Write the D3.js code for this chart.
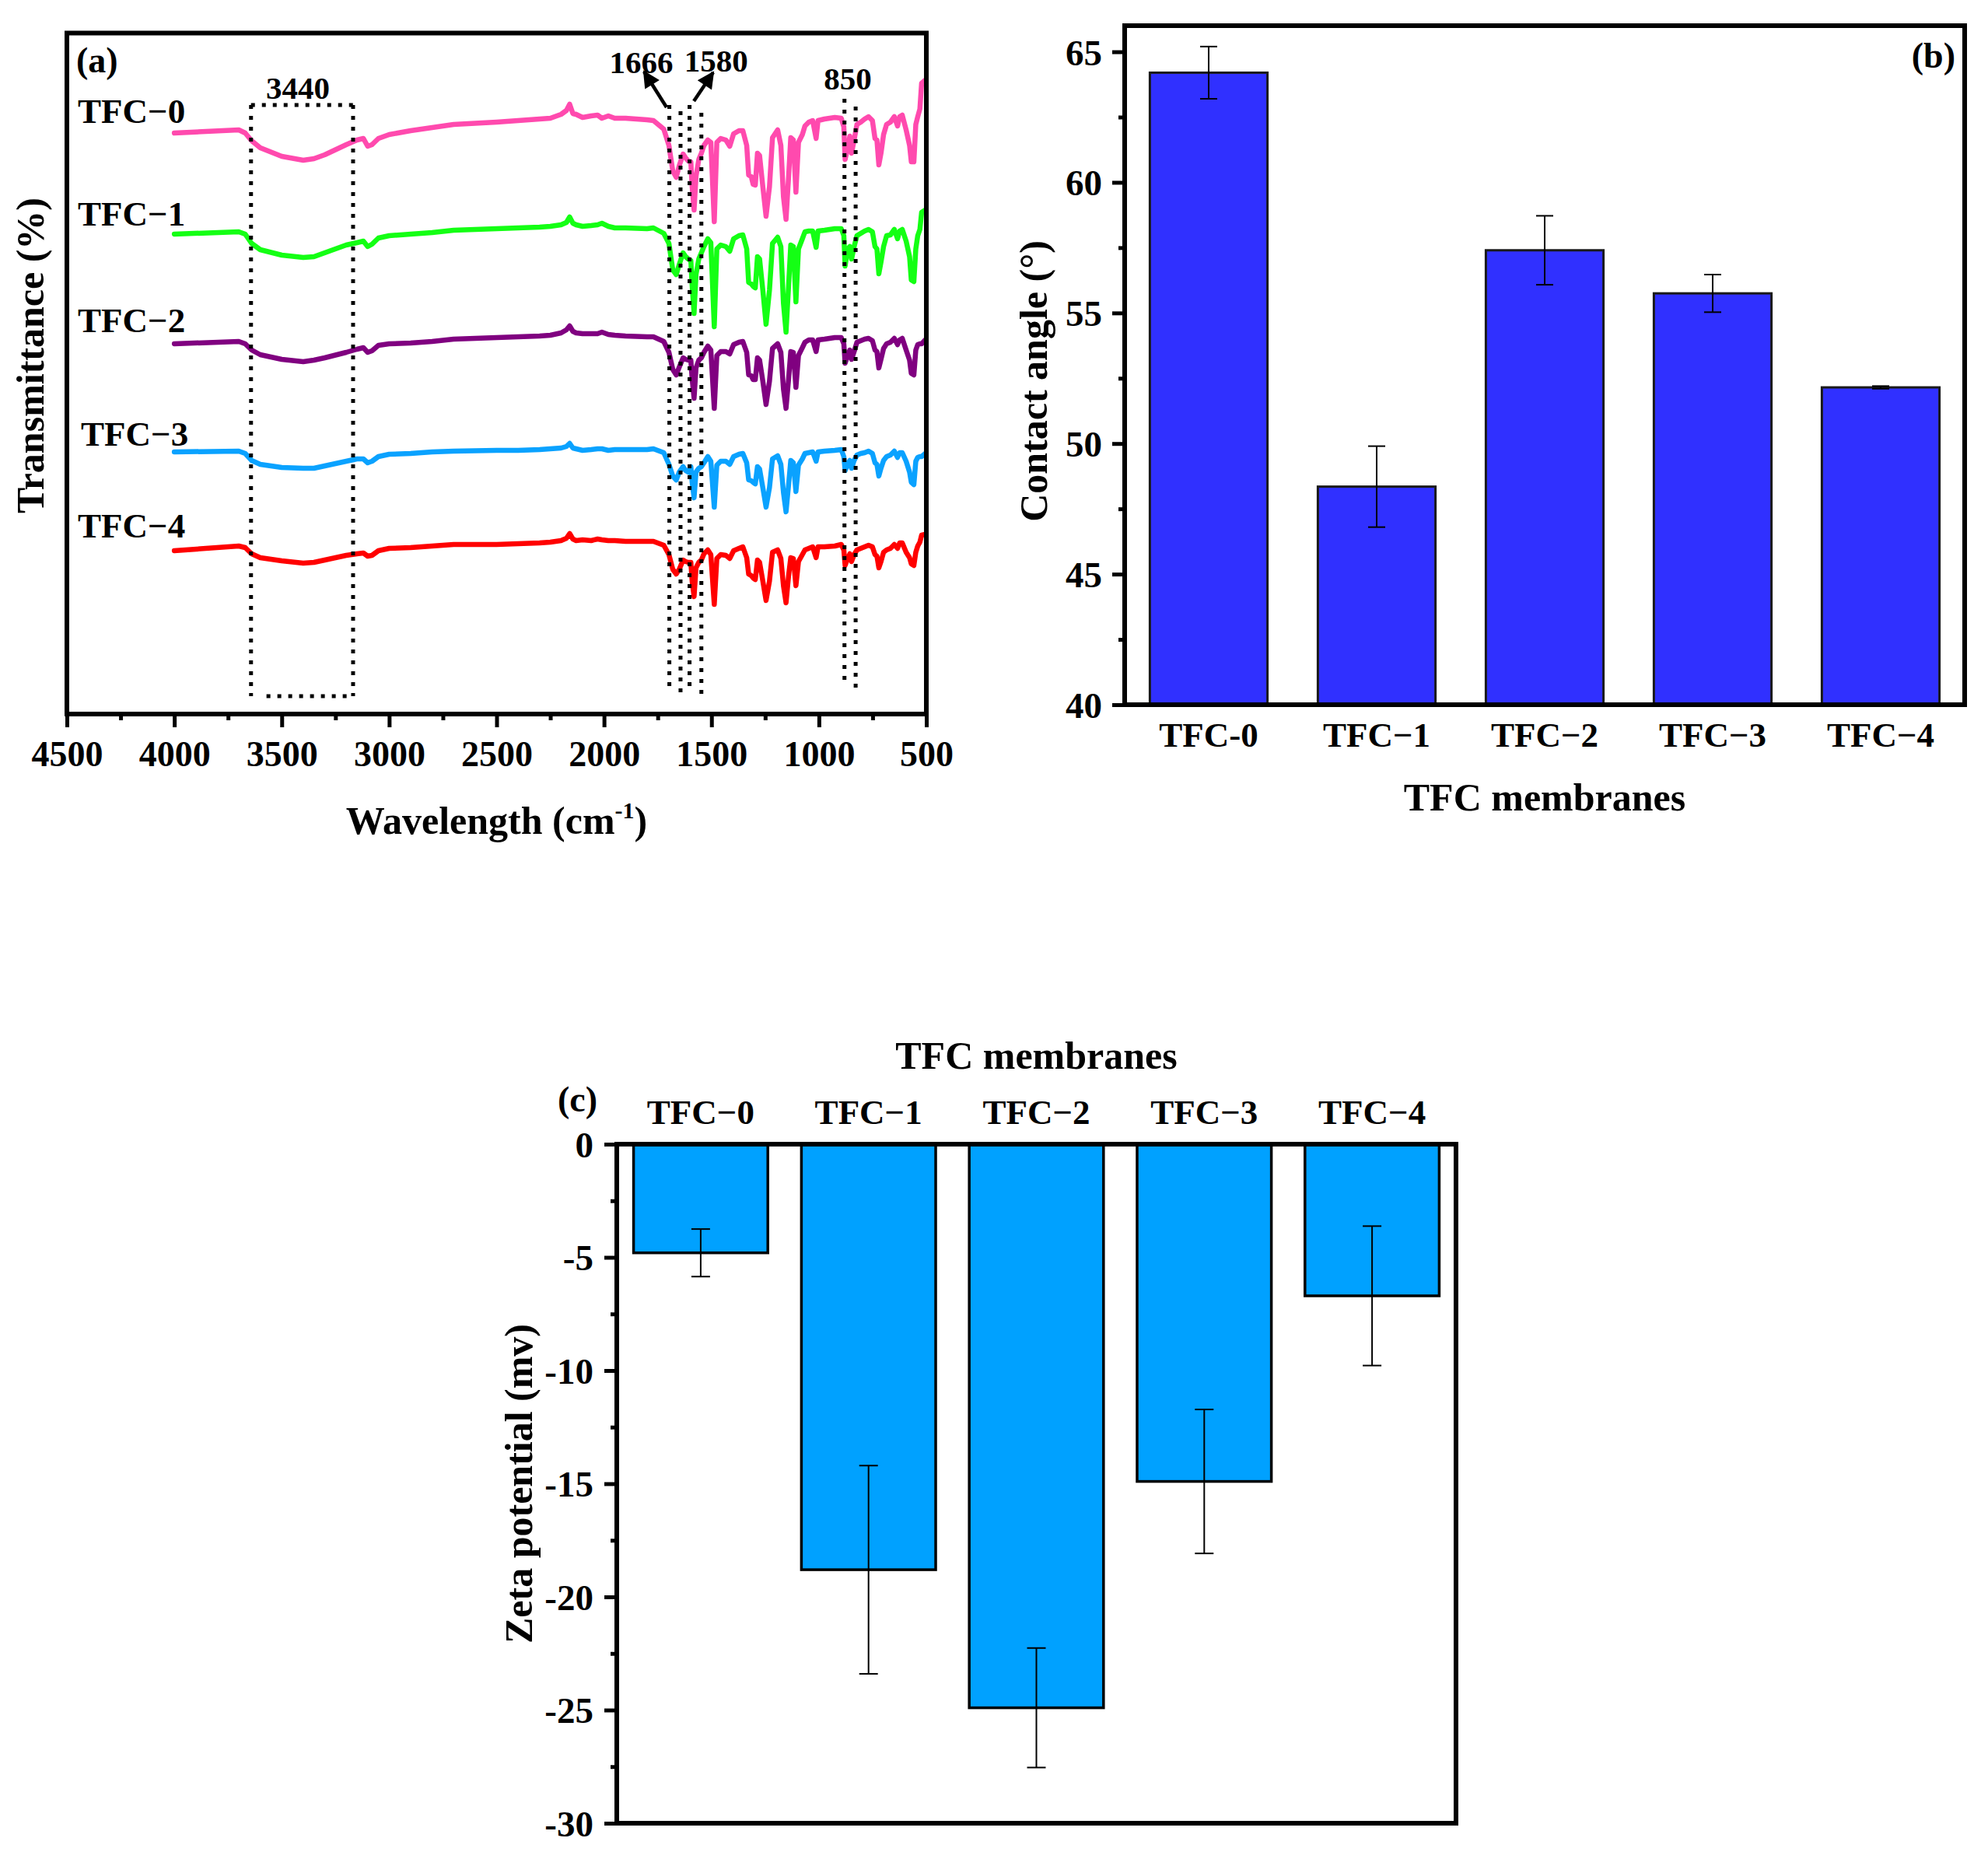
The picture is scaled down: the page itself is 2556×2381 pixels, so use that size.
<!DOCTYPE html>
<html>
<head>
<meta charset="utf-8">
<script src="https://cdn.jsdelivr.net/npm/d3@7"></script>
<style>
body { margin: 0; background: #fff; }
text { font-family: "Liberation Serif", "Times New Roman", serif; font-weight: bold; fill: #000; }
</style>
</head>
<body>
<script>
// ---- data ----
const wavenumbers = [4000, 3700, 3670, 3640, 3600, 3500, 3400, 3350, 3300, 3200, 3150, 3120, 3100, 3080, 3050, 3000, 2900, 2800, 2700, 2500, 2400, 2300, 2250, 2200, 2175, 2160, 2145, 2130, 2100, 2060, 2030, 2010, 1980, 1950, 1900, 1800,
    1770, 1722, 1698, 1680, 1664, 1650, 1632, 1620, 1608, 1596,
    1590, 1581, 1572, 1559, 1547, 1535, 1517, 1503, 1487, 1475,
    1457, 1433, 1415, 1397, 1372, 1354, 1336, 1327, 1315, 1306,
    1296, 1286, 1276, 1261, 1246, 1230, 1216, 1192, 1177, 1165,
    1153, 1141, 1131, 1119, 1107, 1095, 1077, 1065, 1047, 1029,
    1013, 1004, 974, 926, 896, 884, 878, 866, 856, 848,
    836, 823, 805, 787, 769, 751, 739, 730, 721, 711,
    699, 685, 667, 649, 634, 624, 612, 594, 578, 570,
    558, 549, 540, 530, 522, 505];

// transmittance, arbitrary offset units
const tfc0 = [74.7, 75.1, 74.7, 73.7, 72.8, 71.7, 71.2, 71.4, 71.9, 73.2, 73.8, 74.0, 73.0, 73.2, 74.0, 74.5, 75.0, 75.4, 75.8, 76.1, 76.3, 76.5, 76.6, 77.1, 77.6, 78.4, 77.2, 77.1, 76.7, 76.9, 77.0, 76.6, 76.9, 76.6, 76.6, 76.4,
    76.3, 75.2, 73.1, 69.8, 69.0, 70.5, 72.0, 71.5, 71.1, 71.0,
    67.8, 64.8, 69.1, 71.3, 72.1, 73.1, 73.8, 73.5, 63.3, 73.5,
    74.0, 73.8, 73.0, 74.6, 75.0, 75.0, 73.1, 69.3, 69.1, 68.1,
    68.0, 72.1, 71.8, 67.8, 64.0, 67.8, 74.1, 75.1, 73.1, 66.5,
    63.6, 69.1, 74.1, 73.8, 67.1, 73.5, 74.5, 75.6, 76.1, 76.3,
    74.0, 76.3, 76.5, 76.7, 76.6, 75.5, 71.3, 72.8, 74.3, 72.1,
    73.8, 75.8, 76.1, 76.5, 76.8, 76.3, 74.0, 73.8, 70.6, 72.1,
    74.5, 75.8, 76.1, 76.8, 75.6, 76.8, 77.0, 75.1, 73.1, 71.0,
    71.0, 75.8, 76.8, 77.8, 81.1, 81.5];
const tfc1 = [61.7, 62.0, 61.7, 60.5, 59.7, 59.0, 58.7, 58.8, 59.3, 60.3, 60.6, 60.8, 60.1, 60.4, 61.2, 61.5, 61.7, 61.9, 62.2, 62.4, 62.5, 62.6, 62.7, 62.9, 63.2, 63.9, 63.1, 62.9, 62.7, 62.8, 62.9, 63.1, 62.7, 62.5, 62.5, 62.4,
    62.5, 61.8, 60.5, 57.1, 56.5, 57.8, 59.3, 58.8, 58.5, 58.3,
    55.1, 51.5, 56.5, 58.5, 59.3, 60.1, 61.1, 60.6, 49.8, 59.8,
    60.3, 60.1, 59.5, 61.1, 61.5, 61.6, 59.8, 55.5, 55.3, 55.0,
    54.8, 58.8, 58.5, 54.5, 50.1, 54.5, 60.5, 61.3, 60.1, 52.8,
    49.1, 55.1, 60.3, 60.1, 53.0, 59.8, 61.1, 62.0, 62.1, 62.1,
    60.0, 62.1, 62.2, 62.4, 62.4, 61.5, 57.6, 59.8, 60.1, 58.5,
    60.1, 61.5, 61.8, 62.1, 62.3, 62.0, 60.1, 59.8, 56.6, 58.1,
    60.1, 61.5, 61.6, 62.3, 61.1, 62.1, 62.3, 60.8, 58.8, 55.8,
    55.6, 59.8, 61.5, 62.3, 64.5, 64.8];
const tfc2 = [47.6, 47.9, 47.6, 46.8, 46.2, 45.6, 45.3, 45.5, 45.8, 46.5, 46.9, 47.1, 46.5, 46.7, 47.4, 47.6, 47.7, 47.9, 48.2, 48.4, 48.5, 48.6, 48.7, 49.0, 49.4, 49.9, 49.2, 49.0, 48.9, 48.9, 48.9, 49.1, 48.8, 48.7, 48.6, 48.5,
    48.5, 47.9, 46.5, 44.3, 43.6, 44.6, 45.8, 45.6, 45.5, 45.5,
    43.1, 40.6, 44.5, 45.5, 45.8, 46.5, 47.3, 46.8, 39.3, 46.1,
    46.6, 46.6, 46.3, 47.5, 47.8, 47.9, 46.5, 43.6, 43.5, 43.0,
    43.0, 45.8, 45.5, 42.8, 39.8, 42.8, 47.0, 47.6, 46.5, 41.8,
    39.3, 43.1, 46.6, 46.5, 42.0, 46.1, 47.1, 47.8, 48.1, 48.1,
    46.6, 48.1, 48.2, 48.4, 48.4, 47.6, 45.1, 46.1, 46.8, 45.6,
    46.6, 47.8, 48.0, 48.2, 48.3, 48.0, 46.8, 46.6, 44.5, 45.6,
    47.0, 47.6, 47.8, 48.3, 47.5, 48.1, 48.3, 46.8, 45.5, 43.8,
    43.6, 46.8, 47.5, 47.6, 47.6, 48.1];
const tfc3 = [33.7, 33.8, 33.5, 32.6, 32.1, 31.7, 31.6, 31.6, 31.9, 32.5, 32.8, 32.8, 32.3, 32.5, 33.1, 33.4, 33.5, 33.7, 33.8, 33.9, 33.9, 34.0, 34.1, 34.2, 34.4, 34.8, 34.2, 34.1, 33.9, 34.0, 34.1, 34.1, 33.9, 34.0, 34.0, 34.0,
    34.1, 33.6, 32.1, 30.6, 30.1, 31.1, 31.8, 31.3, 31.1, 31.8,
    29.8, 27.8, 31.1, 31.6, 31.8, 32.3, 33.1, 32.5, 26.6, 32.0,
    32.5, 32.5, 32.1, 33.1, 33.4, 33.5, 32.3, 30.1, 30.0, 29.8,
    29.6, 31.8, 31.5, 29.1, 26.6, 29.1, 32.8, 33.2, 32.1, 28.5,
    26.0, 29.5, 32.6, 32.3, 28.6, 32.0, 32.8, 33.5, 33.6, 33.7,
    32.5, 33.7, 33.8, 33.9, 34.0, 33.1, 31.3, 32.1, 32.6, 31.6,
    32.6, 33.3, 33.5, 33.6, 33.8, 33.5, 32.3, 32.1, 30.6, 31.6,
    32.6, 33.1, 33.3, 33.8, 33.0, 33.6, 33.6, 32.5, 31.1, 29.8,
    29.5, 32.5, 33.0, 33.1, 33.1, 33.5];
const tfc4 = [21.0, 21.6, 21.4, 20.6, 20.1, 19.7, 19.4, 19.5, 19.8, 20.4, 20.6, 20.7, 20.3, 20.4, 21.0, 21.3, 21.4, 21.6, 21.8, 21.8, 21.9, 22.0, 22.1, 22.3, 22.6, 23.2, 22.5, 22.3, 22.4, 22.3, 22.5, 22.4, 22.3, 22.3, 22.2, 22.2,
    22.2, 21.7, 20.5, 18.6, 18.0, 18.6, 19.8, 19.6, 19.5, 19.5,
    17.1, 15.1, 18.8, 19.5, 19.8, 20.6, 21.1, 20.5, 14.1, 20.0,
    20.5, 20.4, 20.0, 21.0, 21.3, 21.5, 20.1, 18.0, 17.8, 17.5,
    17.3, 19.8, 19.5, 17.1, 14.6, 17.1, 20.8, 21.1, 20.0, 16.5,
    14.3, 17.8, 20.1, 20.0, 16.5, 19.6, 20.5, 21.1, 21.3, 21.5,
    20.1, 21.5, 21.5, 21.6, 21.8, 21.1, 19.1, 20.0, 20.6, 19.6,
    20.5, 21.1, 21.3, 21.5, 21.7, 21.5, 20.5, 20.3, 18.8, 19.6,
    20.8, 21.1, 21.3, 21.8, 21.3, 22.0, 22.0, 20.8, 20.1, 19.3,
    19.1, 20.8, 21.6, 22.1, 23.0, 23.1];

const seriesNames = ["TFC\u22120", "TFC\u22121", "TFC\u22122", "TFC\u22123", "TFC\u22124"];
const wavTicks = [4500, 4000, 3500, 3000, 2500, 2000, 1500, 1000, 500];
const wavMinor = [4250, 3750, 3250, 2750, 2250, 1750, 1250, 750];

// dotted guide lines [wavenumber, from, to]
const guideV = [[3643, 2.3, 78.3], [3168, 2.3, 78.3], [1696, 3.5, 78.3], [1644, 2.5, 77.5], [1602, 3.3, 78.3], [1547, 2.4, 77.3], [881, 4.3, 79.1], [829, 3.1, 78.1]];
const guideH = [[3643, 3168, 78.3], [3571, 3182, 2.3]];
const peakLabels = ["3440", "1666", "1580", "850"];
const peakAt = [[3425, 79.1], [1827, 82.4], [1478, 82.6], [866, 80.3]];
const arrows = [[1709, 78.0, 1814, 82.6], [1582, 78.8, 1492, 82.5]];

const membranesB = ["TFC-0", "TFC\u22121", "TFC\u22122", "TFC\u22123", "TFC\u22124"];
const contactAngle = [64.2, 48.35, 57.4, 55.75, 52.15];
const contactErr = [1.0, 1.55, 1.32, 0.72, 0.05];
const angleTicks = [40, 45, 50, 55, 60, 65];
const angleMinor = [42.5, 47.5, 52.5, 57.5, 62.5];

const membranesC = ["TFC\u22120", "TFC\u22121", "TFC\u22122", "TFC\u22123", "TFC\u22124"];
const zeta = [-4.8, -18.8, -24.9, -14.9, -6.7];
const zetaErr = [1.05, 4.6, 2.64, 3.18, 3.08];
const zetaTicks = [0, -5, -10, -15, -20, -25, -30];
const zetaMinor = [-2.5, -7.5, -12.5, -17.5, -22.5, -27.5];

// ---- layout ----
const W = 2556, H = 2381;
const boxA = {left: 86, right: 1191, top: 42.5, bottom: 918};
const boxB = {left: 1446, right: 2526, top: 33, bottom: 906};
const boxC = {left: 793, right: 1872, top: 1471, bottom: 2344};
const colors = ["#ff4aae", "#14ff14", "#800080", "#0aa2ff", "#ff0000"];
const labelPos = [[100, 158], [100, 290], [100, 427], [104, 573], [100, 691]];

const svg = d3.select("body").append("svg").attr("width", W).attr("height", H);

svg.append("defs").append("marker")
    .attr("id", "head")
    .attr("markerUnits", "userSpaceOnUse")
    .attr("viewBox", "0 0 10 10")
    .attr("refX", 9).attr("refY", 5)
    .attr("markerWidth", 26).attr("markerHeight", 22)
    .attr("orient", "auto")
    .append("path").attr("d", "M0,0 L10,5 L0,10 z").attr("fill", "#000");

let cleanAxis = (g) => {
    g.attr("font-family", null).attr("font-size", null);
    g.select(".domain").remove();
    g.selectAll(".tick line").attr("stroke", "#000").attr("stroke-width", 5);
};

let frame = (b) => {
    svg.append("rect")
        .attr("x", b.left).attr("y", b.top)
        .attr("width", b.right - b.left).attr("height", b.bottom - b.top)
        .attr("fill", "none").attr("stroke", "#000").attr("stroke-width", 6);
};

// ---- panel (a) ----
let drawSpectra = () => {
    const xA = d3.scaleLinear().domain([4500, 500]).range([boxA.left, boxA.right]);
    const yA = d3.scaleLinear().domain([0, 87.55]).range([boxA.bottom, boxA.top]);
    const all = [tfc0, tfc1, tfc2, tfc3, tfc4];

    const line = d3.line().x((d, i) => xA(wavenumbers[i])).y(d => yA(d));
    svg.append("g").selectAll("path")
        .data(all)
        .enter()
        .append("path")
        .attr("d", line)
        .attr("fill", "none")
        .attr("stroke", (d, i) => colors[i])
        .attr("stroke-width", 6.5)
        .attr("stroke-linejoin", "round")
        .attr("stroke-linecap", "round");

    const guides = svg.append("g").attr("stroke", "#000").attr("stroke-width", 5).attr("stroke-dasharray", "5 9");
    guides.selectAll(".gv").data(guideV).enter().append("line")
        .attr("x1", d => xA(d[0])).attr("x2", d => xA(d[0]))
        .attr("y1", d => yA(d[2])).attr("y2", d => yA(d[1]));
    guides.selectAll(".gh").data(guideH).enter().append("line")
        .attr("x1", d => xA(d[0])).attr("x2", d => xA(d[1]))
        .attr("y1", d => yA(d[2])).attr("y2", d => yA(d[2]));

    svg.append("g").selectAll("line").data(arrows).enter().append("line")
        .attr("x1", d => xA(d[0])).attr("y1", d => yA(d[1]))
        .attr("x2", d => xA(d[2])).attr("y2", d => yA(d[3]))
        .attr("stroke", "#000").attr("stroke-width", 4.5)
        .attr("marker-end", "url(#head)");

    svg.append("g").selectAll("text").data(peakLabels).enter().append("text")
        .attr("x", (d, i) => xA(peakAt[i][0])).attr("y", (d, i) => yA(peakAt[i][1]))
        .attr("text-anchor", "middle").style("font-size", "41px")
        .text(d => d);

    svg.append("g").selectAll("text").data(seriesNames).enter().append("text")
        .attr("x", (d, i) => labelPos[i][0]).attr("y", (d, i) => labelPos[i][1])
        .style("font-size", "45px")
        .text(d => d);

    frame(boxA);

    const gx = svg.append("g").attr("transform", "translate(0," + boxA.bottom + ")")
        .call(d3.axisBottom(xA).tickValues(wavTicks).tickSize(17).tickFormat(d3.format("d")));
    cleanAxis(gx);
    gx.selectAll("text").attr("y", 67).attr("dy", null).style("font-size", "46px");
    const gxm = svg.append("g").attr("transform", "translate(0," + boxA.bottom + ")")
        .call(d3.axisBottom(xA).tickValues(wavMinor).tickSize(8).tickFormat(""));
    cleanAxis(gxm);

    const xt = svg.append("text").attr("x", (boxA.left + boxA.right) / 2).attr("y", 1072)
        .attr("text-anchor", "middle").style("font-size", "50px");
    xt.append("tspan").text("Wavelength (cm");
    xt.append("tspan").attr("dy", -20).style("font-size", "30px").text("-1");
    xt.append("tspan").attr("dy", 20).text(")");

    svg.append("text").attr("transform", "translate(56,457) rotate(-90)")
        .attr("text-anchor", "middle").style("font-size", "50px").text("Transmittance (%)");

    svg.append("text").attr("x", 98).attr("y", 93).style("font-size", "46px").text("(a)");
};

// ---- panel (b) ----
let drawContact = () => {
    const xB = d3.scaleBand().domain(membranesB).range([boxB.left, boxB.right]).paddingInner(0.3).paddingOuter(0.15);
    const yB = d3.scaleLinear().domain([40, 66]).range([boxB.bottom, boxB.top]);

    svg.append("g").selectAll("rect")
        .data(contactAngle)
        .enter()
        .append("rect")
        .attr("x", (d, i) => xB(membranesB[i]))
        .attr("width", xB.bandwidth())
        .attr("y", d => yB(d))
        .attr("height", d => yB(40) - yB(d))
        .attr("fill", "#3030ff")
        .attr("stroke", "#1a1a1a")
        .attr("stroke-width", 3);

    const err = svg.append("g").attr("stroke", "#000").attr("stroke-width", 2);
    contactAngle.forEach((v, i) => {
        const cx = xB(membranesB[i]) + xB.bandwidth() / 2;
        err.append("line").attr("x1", cx).attr("x2", cx).attr("y1", yB(v + contactErr[i])).attr("y2", yB(v - contactErr[i]));
        err.append("line").attr("x1", cx - 11).attr("x2", cx + 11).attr("y1", yB(v + contactErr[i])).attr("y2", yB(v + contactErr[i]));
        err.append("line").attr("x1", cx - 11).attr("x2", cx + 11).attr("y1", yB(v - contactErr[i])).attr("y2", yB(v - contactErr[i]));
    });

    frame(boxB);

    const gy = svg.append("g").attr("transform", "translate(" + boxB.left + ",0)")
        .call(d3.axisLeft(yB).tickValues(angleTicks).tickSize(16));
    cleanAxis(gy);
    gy.selectAll("text").attr("x", -29).attr("dy", "0.35em").style("font-size", "47px");
    const gym = svg.append("g").attr("transform", "translate(" + boxB.left + ",0)")
        .call(d3.axisLeft(yB).tickValues(angleMinor).tickSize(8).tickFormat(""));
    cleanAxis(gym);

    const gx = svg.append("g").attr("transform", "translate(0," + boxB.bottom + ")")
        .call(d3.axisBottom(xB).tickSize(0));
    cleanAxis(gx);
    gx.selectAll("text").attr("y", 54).attr("dy", null).style("font-size", "45px");

    svg.append("text").attr("x", (boxB.left + boxB.right) / 2).attr("y", 1042)
        .attr("text-anchor", "middle").style("font-size", "50px").text("TFC membranes");
    svg.append("text").attr("transform", "translate(1346,490) rotate(-90)")
        .attr("text-anchor", "middle").style("font-size", "50px").text("Contact angle (\u00b0)");
    svg.append("text").attr("x", 2514).attr("y", 87).attr("text-anchor", "end")
        .style("font-size", "46px").text("(b)");
};

// ---- panel (c) ----
let drawZeta = () => {
    const xC = d3.scaleBand().domain(membranesC).range([boxC.left, boxC.right]).paddingInner(0.2).paddingOuter(0.1);
    const yC = d3.scaleLinear().domain([-30, 0]).range([boxC.bottom, boxC.top]);

    svg.append("g").selectAll("rect")
        .data(zeta)
        .enter()
        .append("rect")
        .attr("x", (d, i) => xC(membranesC[i]))
        .attr("width", xC.bandwidth())
        .attr("y", yC(0))
        .attr("height", d => yC(d) - yC(0))
        .attr("fill", "#00a1ff")
        .attr("stroke", "#000")
        .attr("stroke-width", 3.5);

    const err = svg.append("g").attr("stroke", "#000").attr("stroke-width", 2);
    zeta.forEach((v, i) => {
        const cx = xC(membranesC[i]) + xC.bandwidth() / 2;
        err.append("line").attr("x1", cx).attr("x2", cx).attr("y1", yC(v + zetaErr[i])).attr("y2", yC(v - zetaErr[i]));
        err.append("line").attr("x1", cx - 12).attr("x2", cx + 12).attr("y1", yC(v + zetaErr[i])).attr("y2", yC(v + zetaErr[i]));
        err.append("line").attr("x1", cx - 12).attr("x2", cx + 12).attr("y1", yC(v - zetaErr[i])).attr("y2", yC(v - zetaErr[i]));
    });

    frame(boxC);

    const gy = svg.append("g").attr("transform", "translate(" + boxC.left + ",0)")
        .call(d3.axisLeft(yC).tickValues(zetaTicks).tickSize(16).tickFormat(d => d3.format("d")(d).replace("\u2212", "-")));
    cleanAxis(gy);
    gy.selectAll("text").attr("x", -30).attr("dy", "0.35em").style("font-size", "47px");
    const gym = svg.append("g").attr("transform", "translate(" + boxC.left + ",0)")
        .call(d3.axisLeft(yC).tickValues(zetaMinor).tickSize(8).tickFormat(""));
    cleanAxis(gym);

    const gx = svg.append("g").attr("transform", "translate(0," + boxC.top + ")")
        .call(d3.axisTop(xC).tickSize(0));
    cleanAxis(gx);
    gx.selectAll("text").attr("y", -26).attr("dy", null).style("font-size", "45px");

    svg.append("text").attr("x", (boxC.left + boxC.right) / 2).attr("y", 1374)
        .attr("text-anchor", "middle").style("font-size", "50px").text("TFC membranes");
    svg.append("text").attr("transform", "translate(684," + (boxC.top + boxC.bottom) / 2 + ") rotate(-90)")
        .attr("text-anchor", "middle").style("font-size", "50px").text("Zeta potential (mv)");
    svg.append("text").attr("x", 717).attr("y", 1429).style("font-size", "46px").text("(c)");
};

drawSpectra();
drawContact();
drawZeta();
</script>
</body>
</html>
